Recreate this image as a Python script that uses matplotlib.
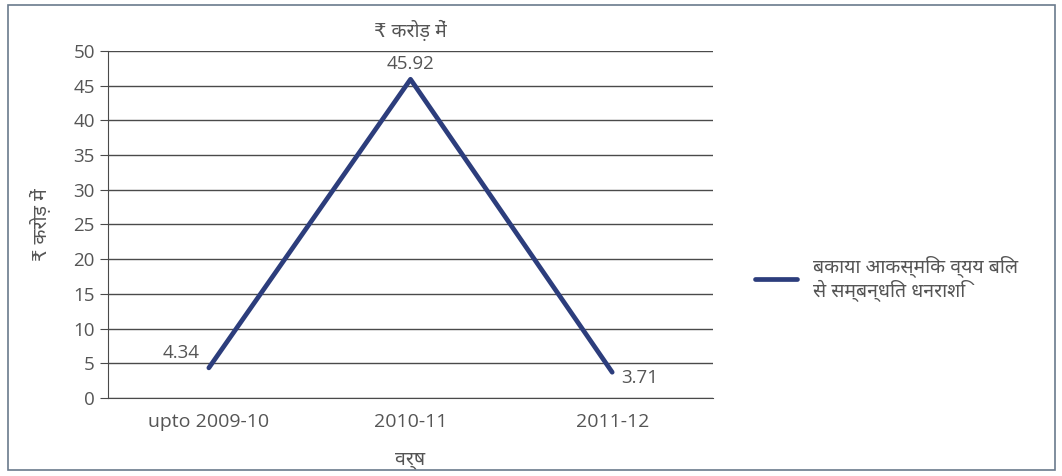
import matplotlib.pyplot as plt
from matplotlib.patches import Rectangle

years = ['upto 2009-10', '2010-11', '2011-12']
amounts = [4.34, 45.92, 3.71]
series_name = 'बकाया आकस्मिक व्यय बिल\nसे सम्बन्धित धनराशि'

plt.rcParams['font.family'] = ['Open Sans', 'DejaVu Sans', 'Noto Sans']
text_col = '#555555'
line_col = '#2c3d7c'

fig = plt.figure(figsize=(10.62, 4.76), dpi=100)
ax = fig.add_axes([0.1017, 0.1639, 0.5697, 0.729])

x = range(len(years))
ax.plot(x, amounts, color=line_col, lw=3.4, solid_capstyle='round', label=series_name)

ax.set_xlim(-0.5, 2.5)
ax.set_ylim(0, 50)
ax.set_yticks(range(0, 51, 5))
ax.set_xticks(list(x))
ax.set_xticklabels(years)
ax.grid(axis='y', color='#4a4a4a', lw=1)
ax.set_axisbelow(True)
for s in ['top', 'right']:
    ax.spines[s].set_visible(False)
ax.spines['left'].set_color('#4a4a4a')
ax.spines['bottom'].set_color('#4a4a4a')
ax.tick_params(axis='y', colors=text_col, labelsize=13.5, length=6, color='#4a4a4a')
ax.tick_params(axis='x', colors=text_col, labelsize=14, length=0, pad=11)

# data labels
ax.annotate(f'{amounts[0]:.2f}', (0, amounts[0]), xytext=(-20, 11), textcoords='offset points',
            ha='center', va='center', fontsize=13.5, color=text_col)
ax.annotate(f'{amounts[1]:.2f}', (1, amounts[1]), xytext=(0, 11), textcoords='offset points',
            ha='center', va='center', fontsize=13.5, color=text_col)
ax.annotate(f'{amounts[2]:.2f}', (2, amounts[2]), xytext=(20, -4), textcoords='offset points',
            ha='center', va='center', fontsize=13.5, color=text_col)

ax.set_title('₹ करोड़ में', fontsize=14, color=text_col, pad=10)
ax.set_ylabel('₹ करोड़ में', fontsize=14, color=text_col, labelpad=16)
ax.set_xlabel('वर्ष', fontsize=14, color=text_col, labelpad=14)

fig.legend(loc='center left', bbox_to_anchor=(0.694, 0.415), frameon=False,
           fontsize=14, labelcolor=text_col, handlelength=2.2, labelspacing=0.2)

fig.patches.append(Rectangle((0.008, 0.012), 0.985, 0.978, transform=fig.transFigure,
                             fill=False, edgecolor='#6a7a8c', lw=1.2))

fig.savefig('out.png', dpi=100)
